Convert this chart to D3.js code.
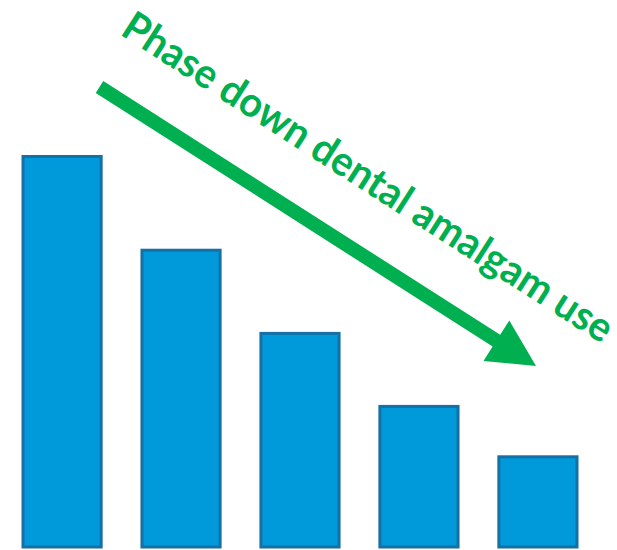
<!DOCTYPE html>
<html>
<head>
<meta charset="utf-8">
<script src="https://cdn.jsdelivr.net/npm/d3@7"></script>
<style>
  html, body { margin: 0; padding: 0; background: #fff; }
  svg { display: block; }
</style>
</head>
<body>
<script>
// Five declining bars with a trend arrow and caption
const categories = ["A", "B", "C", "D", "E"];
const values = [100, 76, 54.7, 36, 23.1];
const caption = "Phase down dental amalgam use";

const width = 617, height = 550;
const svg = d3.select("body").append("svg")
  .attr("width", width).attr("height", height);

const x = d3.scaleBand()
  .domain(categories)
  .range([23, 577])
  .paddingInner(0.343)
  .paddingOuter(0);

const y = d3.scaleLinear()
  .domain([0, 100])
  .range([547, 156.5]);

svg.append("g").selectAll("rect")
  .data(values)
  .join("rect")
  .attr("x", (d, i) => x(categories[i]))
  .attr("y", d => y(d))
  .attr("width", x.bandwidth())
  .attr("height", d => y(0) - y(d))
  .attr("fill", "#0099DA")
  .attr("stroke", "#1570A6")
  .attr("stroke-width", 3);

// Trend arrow
const green = "#00B050";
const start = [99.5, 87], tip = [536, 366];
const dx = tip[0] - start[0], dy = tip[1] - start[1];
const len = Math.hypot(dx, dy);
const ux = dx / len, uy = dy / len;
const px = -uy, py = ux;
const headLen = 47, headHalf = 24, shaft = 7;
const bx = tip[0] - ux * headLen, by = tip[1] - uy * headLen;

const arrowPts = [
  [start[0] + px * shaft, start[1] + py * shaft],
  [bx + px * shaft, by + py * shaft],
  [bx + px * headHalf, by + py * headHalf],
  tip,
  [bx - px * headHalf, by - py * headHalf],
  [bx - px * shaft, by - py * shaft],
  [start[0] - px * shaft, start[1] - py * shaft]
];
svg.append("path")
  .attr("d", d3.line()(arrowPts) + "Z")
  .attr("fill", green);

// Caption along the arrow
const angle = 32.7;
svg.append("text")
  .attr("transform", `translate(119,34) rotate(${angle})`)
  .attr("font-family", "Lato, 'Open Sans', sans-serif")
  .attr("font-weight", "bold")
  .attr("font-size", 41)
  .attr("fill", green)
  .attr("textLength", 574)
  .attr("lengthAdjust", "spacingAndGlyphs")
  .text(caption);
</script>
</body>
</html>
